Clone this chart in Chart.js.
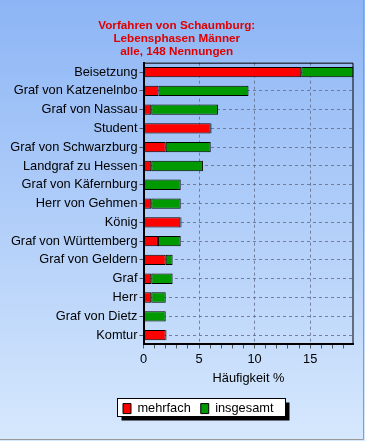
<!DOCTYPE html>
<html>
<head>
<meta charset="utf-8">
<script src="https://cdn.jsdelivr.net/npm/chart.js@4/dist/chart.umd.min.js"></script>
<style>
    html, body { margin: 0; padding: 0; background: #fff; }
    #wrap { width: 365px; height: 441px; }
</style>
</head>
<body>
<div id="wrap"><canvas id="phasesChart" width="365" height="441"></canvas></div>
<script>
// Lebensphasen, top to bottom
const categories = [
    'Beisetzung', 'Graf von Katzenelnbo', 'Graf von Nassau', 'Student',
    'Graf von Schwarzburg', 'Landgraf zu Hessen', 'Graf von Käfernburg',
    'Herr von Gehmen', 'König', 'Graf von Württemberg', 'Graf von Geldern',
    'Graf', 'Herr', 'Graf von Dietz', 'Komtur'
];
// Häufigkeit % (red part)
const mehrfach = [14.2, 1.35, 0.7, 6.05, 2.0, 0.7, 0, 0.7, 3.32, 1.3, 2.0, 0.7, 0.7, 0, 2.0];
// Häufigkeit % (whole bar)
const insgesamt = [18.9, 9.45, 6.7, 6.12, 6.05, 5.35, 3.35, 3.35, 3.42, 3.35, 2.62, 2.62, 2.0, 2.0, 2.07];
const xLabels = [0, 5, 10, 15];
const titleLines = ['Vorfahren von Schaumburg:', 'Lebensphasen Männer', 'alle, 148 Nennungen'];

const gridColor = 'rgba(100, 110, 140, 0.85)';
const labelFont = { family: 'Arial', size: 12.8 };

// background gradient, legend frame, thin top/right plot border
const decor = {
    id: 'decor',
    afterLayout(chart) {
        const lg = chart.legend;
        if (!lg || !lg.lineWidths) return;
        const pad = lg.options.labels.padding;
        const x0 = (lg.left + pad + lg.right - lg.lineWidths[0]) / 2;
        const dx = 123 - x0;
        lg.left += dx;
        lg.right += dx;
    },
    beforeDraw(chart) {
        const ctx = chart.ctx;
        const w = chart.width, h = chart.height;
        ctx.save();
        const g = ctx.createLinearGradient(0, 0, 0, h);
        g.addColorStop(0, '#8db5f5');
        g.addColorStop(1, '#d6e8fd');
        ctx.fillStyle = g;
        ctx.fillRect(0, 0, w, h);
        ctx.strokeStyle = '#9a9a9a';
        ctx.lineWidth = 1;
        ctx.beginPath();
        ctx.moveTo(w - 1.5, 0);
        ctx.lineTo(w - 1.5, h - 1.5);
        ctx.lineTo(0, h - 1.5);
        ctx.stroke();

        const hb = chart.legend && chart.legend.legendHitBoxes;
        if (hb && hb.length) {
            const last = hb[hb.length - 1];
            const left = Math.round(hb[0].left) - 5.5;
            const right = Math.round(last.left + last.width) + 12.5;
            const top = Math.round(hb[0].top) - 3.5;
            const bh = 18;
            ctx.fillStyle = '#000';
            ctx.fillRect(left + 4, top + 4, right - left, bh);
            ctx.fillStyle = '#fff';
            ctx.fillRect(left, top, right - left, bh);
            ctx.strokeStyle = '#000';
            ctx.strokeRect(left, top, right - left, bh);
        }
        ctx.restore();
    },
    afterDatasetsDraw(chart) {
        const {ctx, chartArea: a} = chart;
        ctx.save();
        ctx.strokeStyle = '#000';
        ctx.lineWidth = 1;
        ctx.beginPath();
        ctx.moveTo(a.left, a.top + 0.5);
        ctx.lineTo(a.right - 0.5, a.top + 0.5);
        ctx.lineTo(a.right - 0.5, a.bottom);
        ctx.stroke();
        ctx.restore();
    }
};

const ctx = document.getElementById('phasesChart');
new Chart(ctx, {
    type: 'bar',
    data: {
        labels: categories,
        datasets: [{
            label: 'mehrfach',
            data: mehrfach,
            backgroundColor: '#ff0000',
            borderColor: '#000',
            borderWidth: 1,
            borderSkipped: false,
            grouped: false,
            order: 1
        }, {
            label: 'insgesamt',
            data: categories.map((c, i) => [mehrfach[i], insgesamt[i]]),
            backgroundColor: '#009900',
            borderColor: '#000',
            borderWidth: 1,
            borderSkipped: false,
            grouped: false,
            order: 2
        }]
    },
    options: {
        indexAxis: 'y',
        responsive: false,
        animation: false,
        categoryPercentage: 1,
        barPercentage: 0.55,
        layout: {
            padding: { left: 0, right: 11.5, top: 0, bottom: 16 }
        },
        plugins: {
            title: {
                display: true,
                text: titleLines,
                color: '#e00000',
                font: { family: 'Arial', size: 11.7, weight: 'bold', lineHeight: 1.13 },
                padding: { top: 19, bottom: 4 }
            },
            legend: {
                position: 'bottom',
                labels: {
                    boxWidth: 8,
                    boxHeight: 10,
                    padding: 10,
                    color: '#000',
                    font: labelFont
                }
            },
            tooltip: { enabled: false }
        },
        scales: {
            x: {
                type: 'linear',
                min: 0,
                max: 18.9,
                title: {
                    display: true,
                    text: 'Häufigkeit %',
                    color: '#000',
                    font: labelFont,
                    padding: { top: 1, bottom: 6 }
                },
                ticks: {
                    stepSize: 1,
                    autoSkip: false,
                    maxRotation: 0,
                    includeBounds: false,
                    padding: 3,
                    color: '#000',
                    font: labelFont,
                    callback: v => xLabels.includes(v) ? v : ''
                },
                grid: {
                    color: c => (c.tick && xLabels.includes(c.tick.value) && c.tick.value !== 0) ? gridColor : 'rgba(0,0,0,0)',
                    tickColor: '#555',
                    tickLength: 4,
                    lineWidth: 1
                },
                border: { display: true, color: '#000', width: 2, dash: [3, 3] }
            },
            y: {
                type: 'category',
                afterFit: s => { s.width = 143.5; },
                ticks: {
                    padding: 2,
                    color: '#000',
                    font: labelFont
                },
                grid: {
                    offset: false,
                    color: gridColor,
                    tickColor: '#555',
                    tickLength: 4
                },
                border: { display: true, color: '#000', width: 2, dash: [3, 3] }
            }
        }
    },
    plugins: [decor]
});
</script>
</body>
</html>
